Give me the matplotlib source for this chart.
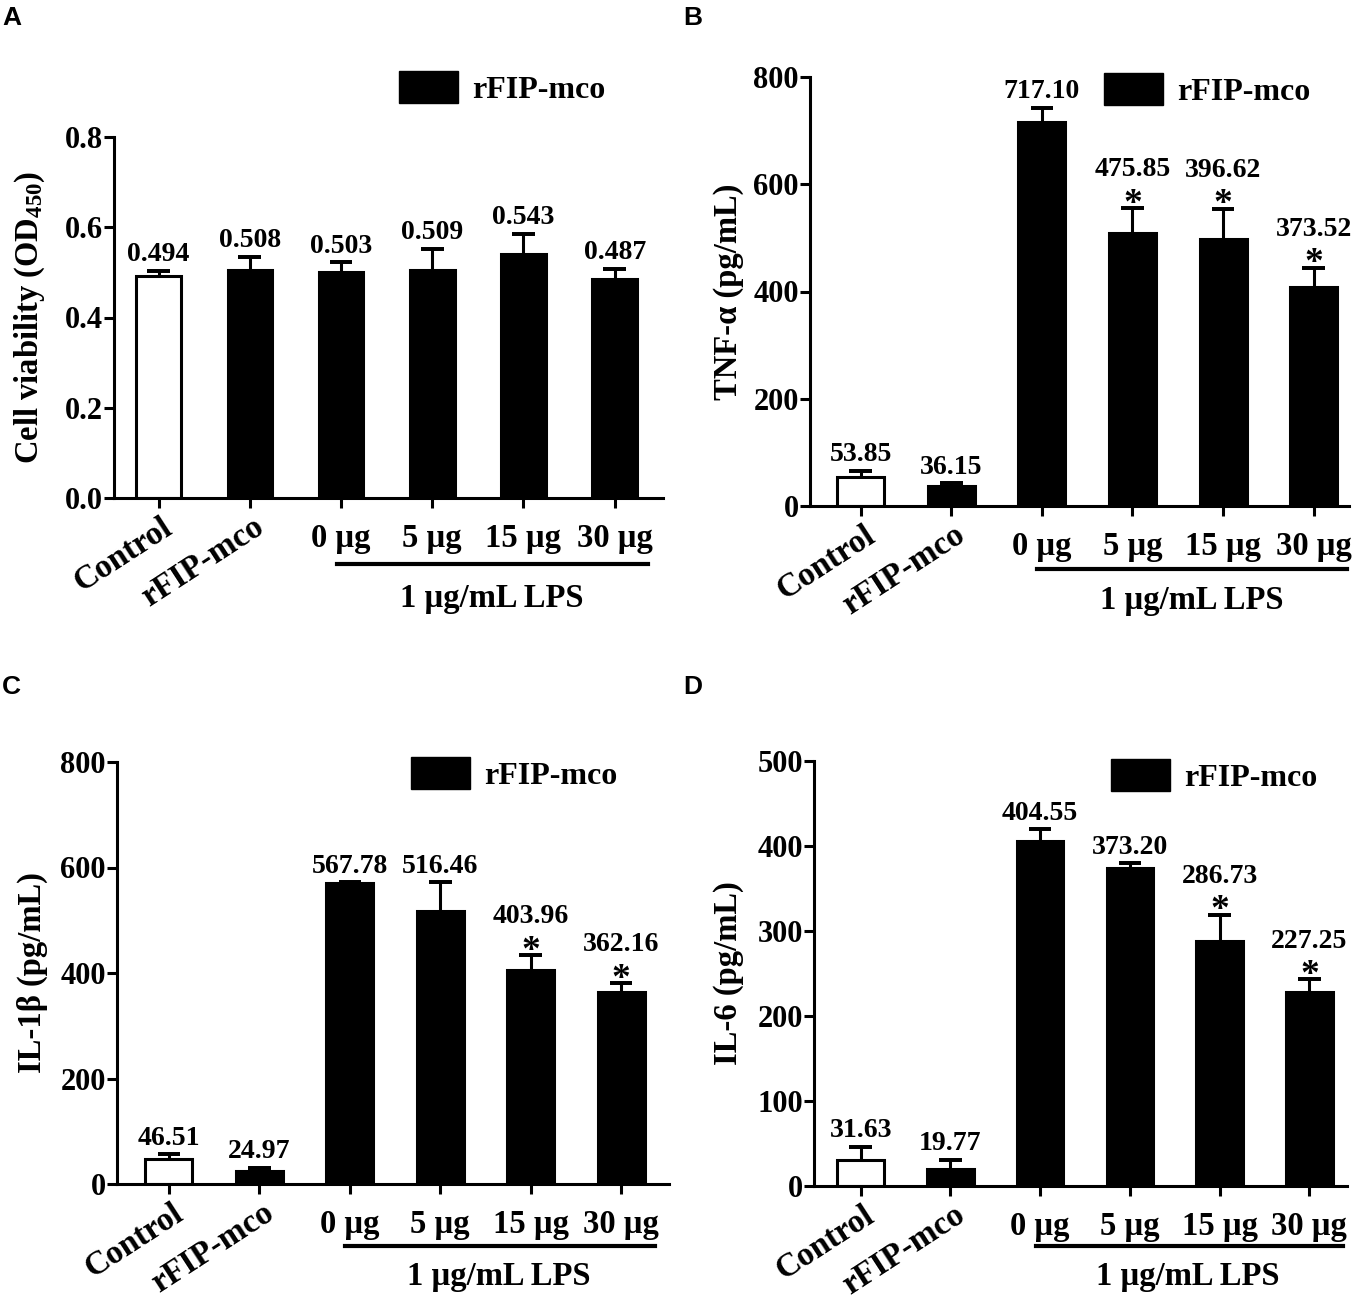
import numpy as np
import matplotlib
matplotlib.use("Agg")
import matplotlib.pyplot as plt
import matplotlib.transforms as mtransforms
from matplotlib.lines import Line2D
from matplotlib.patches import Patch

plt.rcParams['font.family'] = ['Liberation Serif', 'DejaVu Serif']
plt.rcParams['font.weight'] = 'bold'
plt.rcParams['mathtext.fontset'] = 'custom'
plt.rcParams['mathtext.rm'] = 'Liberation Serif:bold'
plt.rcParams['mathtext.it'] = 'Liberation Serif:bold'
plt.rcParams['mathtext.bf'] = 'Liberation Serif:bold'

categories = ["Control", "rFIP-mco", "0 µg", "5 µg", "15 µg", "30 µg"]

# panel A - cell viability
a_vals = [0.493, 0.506, 0.500, 0.506, 0.540, 0.485]
a_err = [0.010, 0.029, 0.022, 0.046, 0.045, 0.023]
a_labels = ["0.494", "0.508", "0.503", "0.509", "0.543", "0.487"]
a_stars = [0, 0, 0, 0, 0, 0]

# panel B - TNF-a
b_vals = [55, 38, 717, 510, 498, 408]
b_err = [11, 4, 25, 45, 56, 36]
b_labels = ["53.85", "36.15", "717.10", "475.85", "396.62", "373.52"]
b_stars = [0, 0, 0, 1, 1, 1]

# panel C - IL-1b
c_vals = [47, 25.5, 570, 518, 405, 364]
c_err = [9, 5, 2, 54, 29, 17]
c_labels = ["46.51", "24.97", "567.78", "516.46", "403.96", "362.16"]
c_stars = [0, 0, 0, 0, 1, 1]

# panel D - IL-6
d_vals = [31, 19.5, 405.5, 374, 288, 228]
d_err = [15, 11.5, 14, 5.5, 31, 15]
d_labels = ["31.63", "19.77", "404.55", "373.20", "286.73", "227.25"]
d_stars = [0, 0, 0, 0, 1, 1]

W, H = 1360, 1304
fig = plt.figure(figsize=(W / 100, H / 100), dpi=100)

LW = 2.2


def px_axes(left, top, right, bottom):
    return fig.add_axes([left / W, 1 - bottom / H, (right - left) / W, (bottom - top) / H])


def panel(rect, xlim, vals, err, labels, stars, ymax, ystep, fmt, ylabel,
          ylab_x, leg_xy, line_dy, text_dy, letter, letter_xy, bw=0.52):
    ax = px_axes(*rect)
    x = np.arange(len(categories))
    colors = ["white"] + ["black"] * (len(categories) - 1)
    ax.bar(x, vals, width=bw, color=colors, edgecolor="black", linewidth=LW, zorder=2)
    tops = np.array(vals) + np.array(err)
    ax.vlines(x, vals, tops, color="black", linewidth=LW, zorder=1)
    ax.hlines(tops, x - 0.125, x + 0.125, color="black", linewidth=LW * 1.3, zorder=1)
    for i in range(len(x)):
        if stars[i]:
            ax.annotate("*", (x[i], tops[i]), xytext=(0, -4), textcoords="offset points",
                        ha="center", va="baseline", fontsize=27)
            ax.annotate(labels[i], (x[i], tops[i]), xytext=(0, 23), textcoords="offset points",
                        ha="center", va="baseline", fontsize=20)
        else:
            ax.annotate(labels[i], (x[i], tops[i]), xytext=(0, 7), textcoords="offset points",
                        ha="center", va="baseline", fontsize=20)

    ax.set_xlim(*xlim)
    ax.set_ylim(0, ymax)
    ax.set_yticks(np.arange(0, ymax + ystep / 2, ystep))
    ax.set_yticklabels([fmt.format(v) for v in np.arange(0, ymax + ystep / 2, ystep)])
    ax.set_xticks(x)
    # first two categories are drawn as rotated texts below
    ax.set_xticklabels([""] * 2 + categories[2:], fontsize=23.5)
    for i in range(2):
        ax.annotate(categories[i], (x[i], 0), xycoords=("data", "axes fraction"),
                    xytext=(8, -19), textcoords="offset points", rotation=33,
                    rotation_mode="anchor", ha="right", va="center", fontsize=24)
    for s in ["top", "right"]:
        ax.spines[s].set_visible(False)
    for s in ["left", "bottom"]:
        ax.spines[s].set_linewidth(LW)
    ax.tick_params(axis="y", length=7, width=LW, labelsize=22, pad=1)
    ax.tick_params(axis="x", length=7, width=LW, pad=11)

    fig.text(ylab_x / W, 1 - ((rect[1] + rect[3]) / 2) / H, ylabel, rotation=90,
             ha="center", va="center", fontsize=23.5)

    # LPS bracket line and text
    off = mtransforms.ScaledTranslation(0, -line_dy / 100, fig.dpi_scale_trans)
    tr = mtransforms.blended_transform_factory(ax.transData, ax.transAxes) + off
    ax.add_line(Line2D([1.95, 5.37], [0, 0], transform=tr, color="black",
                       linewidth=3, clip_on=False))
    off2 = mtransforms.ScaledTranslation(0, -text_dy / 100, fig.dpi_scale_trans)
    tr2 = mtransforms.blended_transform_factory(ax.transData, ax.transAxes) + off2
    ax.text(3.65, 0, "1 µg/mL LPS", transform=tr2, ha="center", va="center", fontsize=23.5)

    handle = Patch(facecolor="black", edgecolor="black")
    fig.legend([handle], ["rFIP-mco"], loc="center left",
               bbox_to_anchor=(leg_xy[0] / W, 1 - leg_xy[1] / H),
               frameon=False, borderpad=0, borderaxespad=0, fontsize=23,
               handlelength=1.84, handleheight=1.16, handletextpad=0.45)

    fig.text(letter_xy[0] / W, 1 - letter_xy[1] / H, letter, family="Liberation Sans",
             fontweight="bold", fontsize=19, ha="left", va="baseline")
    return ax


panel((114, 137, 663, 498), (-0.49, 5.53), a_vals, a_err, a_labels, a_stars, 0.8, 0.2,
      "{:.1f}", r"Cell viability (OD$_{450}$)", 30, (399, 88), 66, 101, "A", (2, 25), bw=0.49)
panel((810, 77, 1349, 506), (-0.56, 5.39), b_vals, b_err, b_labels, b_stars, 800, 200,
      "{:.0f}", "TNF-α (pg/mL)", 728, (1104, 90), 63, 95, "B", (683, 25))
panel((117, 762, 669, 1184), (-0.575, 5.53), c_vals, c_err, c_labels, c_stars, 800, 200,
      "{:.0f}", "IL-1β (pg/mL)", 32, (411, 774), 62, 93, "C", (2, 694))
panel((814, 761, 1347, 1186), (-0.52, 5.42), d_vals, d_err, d_labels, d_stars, 500, 100,
      "{:.0f}", "IL-6 (pg/mL)", 728, (1111, 776), 60, 91, "D", (683, 694))

fig.savefig("out.png", dpi=100)
